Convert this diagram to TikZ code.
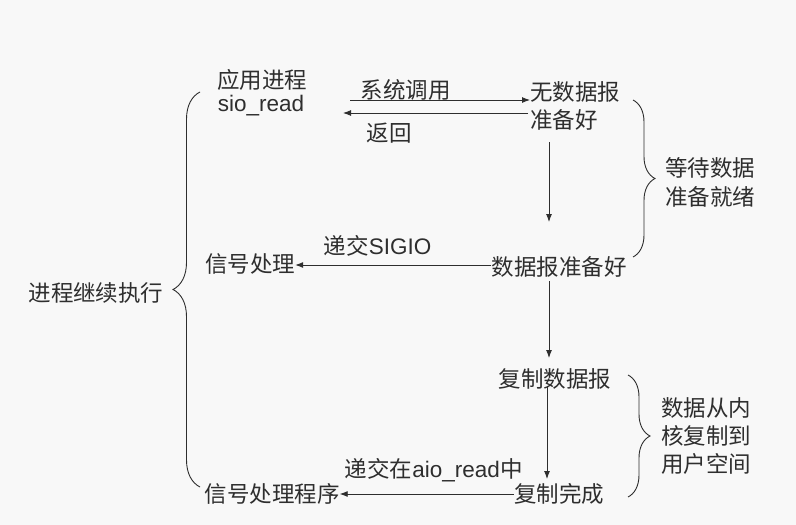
\documentclass[tikz,border=0pt]{standalone}
\usepackage{fontspec}
\setmainfont{Liberation Sans}
\newfontfamily\cjk{Noto Sans CJK SC}
\usetikzlibrary{arrows.meta,decorations.pathreplacing}
\definecolor{ink}{HTML}{2E2E2E}
\definecolor{paper}{HTML}{F8F8F8}
\tikzset{
  lbl/.style={inner sep=0pt, text=ink, font=\cjk\fontsize{22.5}{29}\selectfont},
  flow/.style={draw=ink, line width=0.9pt, -{Latex[length=8pt,width=6pt]}},
  bracebox/.style={draw=ink, line width=0.9pt, decoration={brace, amplitude=#1}, decorate},
}
\begin{document}
\begin{tikzpicture}[x=1pt,y=-1pt]
  \fill[paper] (0,0) rectangle (796,525);
  \useasboundingbox (0,0) rectangle (796,525);

  % process side
  \node[lbl] (app) at (262,80) {应用进程};
  \node[lbl, font=\fontsize{22.5}{29}\selectfont] (sio) at (261,106) {sio\_read};
  \node[lbl] (sig) at (250,264) {信号处理};
  \node[lbl] (sigprog) at (272,494) {信号处理程序};
  \node[lbl] (cont) at (96,293) {进程继续执行};

  % kernel side
  \node[lbl, anchor=west] (nodata) at (530,92) {无数据报};
  \node[lbl, anchor=west] (notready) at (530,120) {准备好};
  \node[lbl] (ready) at (559,267) {数据报准备好};
  \node[lbl] (copy) at (555,379) {复制数据报};
  \node[lbl] (done) at (559,494) {复制完成};

  % phase notes
  \node[lbl, align=left] (wait) at (710,182) {等待数据\\准备就绪};
  \node[lbl, align=left, font=\cjk\fontsize{22.5}{28}\selectfont] (move) at (706,436) {数据从内\\核复制到\\用户空间};

  % connectors
  \coordinate (callS) at (350,100);
  \coordinate (retE) at (528,113);
  \coordinate (retT) at (343,113);
  \draw[flow] (callS) -- (nodata.west |- callS) node[lbl, pos=0.31, yshift=10pt] {系统调用};
  \draw[flow] (retE) -- (retT) node[lbl, pos=0.75, yshift=-20pt] {返回};
  \draw[flow] (549,142) -- (549,222);
  \draw[flow] (ready.west |- 0,265) -- (sig.east |- 0,265) node[lbl, pos=0.58, yshift=19pt] {\cjk 递交\normalfont SIGIO};
  \draw[flow] (549,281) -- (549,358);
  \draw[flow] (547,386) -- (547,479);
  \draw[flow] (done.west |- 0,494) -- (sigprog.east |- 0,494) node[lbl, pos=0.46, yshift=24pt] {\cjk 递交在\normalfont aio\_read\cjk 中};

  % braces
  \draw[bracebox=22pt] (633,100) -- (633,257);
  \draw[bracebox=22pt] (628,375) -- (628,497);
  \draw[bracebox=27pt] (200,487) -- (200,92);
\end{tikzpicture}
\end{document}
